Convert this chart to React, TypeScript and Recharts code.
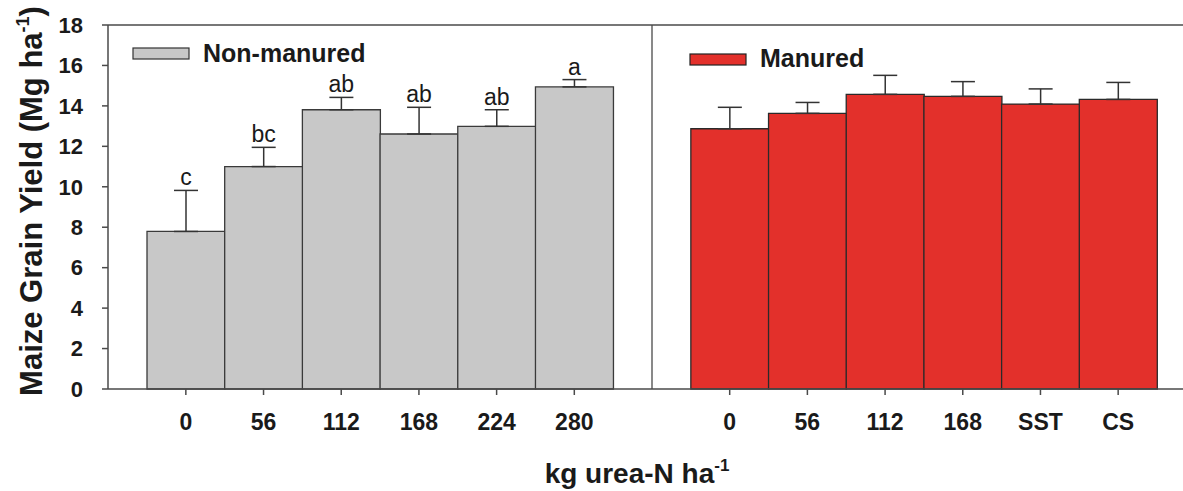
import {
  BarChart,
  Bar,
  Cell,
  XAxis,
  YAxis,
  ErrorBar,
  LabelList,
  ReferenceLine,
  Customized,
} from 'recharts';

// (Mg/ha); error bars are one-sided (upper only)
const nonManuredRates = ['0', '56', '112', '168', '224', '280'];
const nonManuredMean = [7.79, 11.0, 13.81, 12.61, 12.99, 14.94];
const nonManuredErr = [2.03, 0.95, 0.61, 1.32, 0.82, 0.36];
const nonManuredLetters = ['c', 'bc', 'ab', 'ab', 'ab', 'a'];

const manuredRates = ['0', '56', '112', '168', 'SST', 'CS'];
const manuredMean = [12.87, 13.63, 14.57, 14.47, 14.09, 14.32];
const manuredErr = [1.06, 0.54, 0.94, 0.73, 0.75, 0.84];

const yTicks = [0, 2, 4, 6, 8, 10, 12, 14, 16, 18];

const GRAY = '#c8c8c8';
const RED = '#e3302b';
const INK = '#1a1a1a';
const AXIS = '#4a4a4a';
const FONT = '"Liberation Sans", Arial, sans-serif';

type Row = {
  key: string;
  label: string;
  group: 'non' | 'gap' | 'man';
  mean: number | null;
  err?: [number, number];
  letter: string;
};

const rows: Row[] = [
  ...nonManuredRates.map((r, i) => ({
    key: `n${i}`,
    label: r,
    group: 'non' as const,
    mean: nonManuredMean[i],
    err: [0, nonManuredErr[i]] as [number, number],
    letter: nonManuredLetters[i],
  })),
  { key: 'gap', label: '', group: 'gap' as const, mean: null, letter: '' },
  ...manuredRates.map((r, i) => ({
    key: `m${i}`,
    label: r,
    group: 'man' as const,
    mean: manuredMean[i],
    err: [0, manuredErr[i]] as [number, number],
    letter: '',
  })),
];

function XTick(props: any) {
  const { x, y, payload } = props;
  const row = rows.find((r) => r.key === payload.value);
  if (!row || row.group === 'gap') return null;
  return (
    <g>
      <line x1={x} y1={y} x2={x} y2={y + 6} stroke={AXIS} strokeWidth={1.5} />
      <text
        x={x}
        y={y + 41}
        textAnchor="middle"
        fontFamily={FONT}
        fontWeight="bold"
        fontSize={23}
        fill={INK}
      >
        {row.label}
      </text>
    </g>
  );
}

function LetterLabel(props: any) {
  const { x, y, width, height, index } = props;
  const row = rows[index];
  if (!row || !row.letter || row.mean == null || !row.err) return null;
  const pxPerUnit = height / row.mean;
  const top = y - row.err[1] * pxPerUnit;
  return (
    <text
      x={x + width / 2}
      y={top - 5}
      textAnchor="middle"
      fontFamily={FONT}
      fontSize={23}
      fill={INK}
    >
      {row.letter}
    </text>
  );
}

function Annotations() {
  return (
    <g fontFamily={FONT} fill={INK}>
      <rect x={133} y={48} width={56} height={11} fill={GRAY} stroke="#333" strokeWidth={1.2} />
      <text x={203} y={62} fontSize={25} fontWeight="bold">
        Non-manured
      </text>
      <rect x={690} y={54} width={56} height={11} fill={RED} stroke="#222" strokeWidth={1.2} />
      <text x={760} y={67} fontSize={25} fontWeight="bold">
        Manured
      </text>
      <text
        x={42}
        y={201}
        transform="rotate(-90 42 201)"
        textAnchor="middle"
        fontSize={31}
        fontWeight="bold"
      >
        Maize Grain Yield (Mg ha
        <tspan fontSize={18} dy={-13}>
          -1
        </tspan>
        <tspan dy={13}>)</tspan>
      </text>
      <text x={637} y={483} textAnchor="middle" fontSize={28} fontWeight="bold">
        kg urea-N ha
        <tspan fontSize={17} dy={-12}>
          -1
        </tspan>
      </text>
    </g>
  );
}

export default function App() {
  return (
    <div
      style={{
        position: 'absolute',
        left: 0,
        top: 0,
        width: 1183,
        height: 491,
        overflow: 'hidden',
        background: '#fff',
      }}
    >
      <BarChart
        width={1200}
        height={491}
        data={rows}
        margin={{ top: 25, right: 4, left: 0, bottom: 42 }}
        barCategoryGap={0}
        barGap={0}
      >
        <XAxis
          dataKey="key"
          type="category"
          padding={{ left: 39, right: 39 }}
          height={60}
          tickSize={0}
          tickMargin={0}
          tickLine={false}
          axisLine={{ stroke: AXIS, strokeWidth: 1.5 }}
          tick={<XTick />}
          interval={0}
        />
        <YAxis
          domain={[0, 18]}
          ticks={yTicks}
          width={108}
          tickSize={6}
          tickMargin={19}
          axisLine={{ stroke: AXIS, strokeWidth: 1.5 }}
          tickLine={{ stroke: AXIS, strokeWidth: 1.5 }}
          tick={{ fill: INK, fontSize: 22, fontWeight: 'bold', fontFamily: FONT }}
        />
        <ReferenceLine y={18} stroke={AXIS} strokeWidth={1.5} />
        <ReferenceLine x="gap" stroke={AXIS} strokeWidth={1.3} />
        <Bar dataKey="mean" isAnimationActive={false} strokeWidth={1.3}>
          {rows.map((r) => (
            <Cell
              key={r.key}
              fill={r.group === 'man' ? RED : GRAY}
              stroke={r.group === 'man' ? '#2a2a2a' : '#3a3a3a'}
            />
          ))}
          <ErrorBar dataKey="err" width={12} stroke="#333" strokeWidth={1.5} direction="y" />
          <LabelList dataKey="letter" content={<LetterLabel />} />
        </Bar>
        <Customized component={Annotations} />
      </BarChart>
    </div>
  );
}
